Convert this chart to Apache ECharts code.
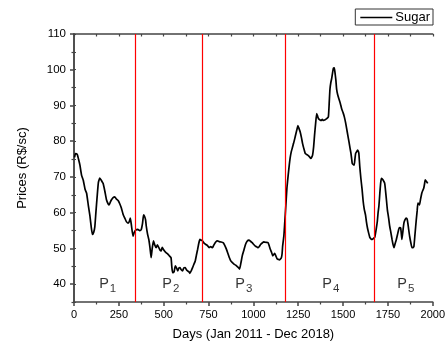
<!DOCTYPE html>
<html><head><meta charset="utf-8">
<script src="https://cdn.jsdelivr.net/npm/echarts@6/dist/echarts.min.js"></script>
<style>html,body{margin:0;padding:0;background:#fff}#c{width:448px;height:351px}</style>
</head><body><div id="c"></div>
<script>
const days = [3,8,18,25,33,42,52,62,70,80,89,96,103,110,116,122,129,136,144,153,162,172,181,190,196,203,209,218,227,237,246,255,264,274,283,292,301,308,314,320,329,336,344,356,366,375,382,388,393,399,403,410,417,424,430,436,443,450,458,465,473,480,486,492,499,506,513,522,532,541,545,550,558,565,572,578,585,591,598,605,612,620,627,633,640,646,654,661,668,676,682,689,696,702,709,716,725,735,744,753,762,772,780,790,800,809,820,831,839,846,853,860,867,874,883,892,901,910,917,923,930,938,947,956,965,975,984,993,1002,1012,1020,1027,1034,1040,1049,1058,1070,1082,1089,1095,1102,1108,1114,1119,1126,1132,1140,1145,1150,1156,1160,1163,1170,1175,1181,1187,1194,1200,1205,1211,1218,1224,1231,1237,1243,1248,1254,1261,1268,1274,1281,1289,1296,1303,1312,1320,1325,1330,1336,1341,1347,1353,1358,1363,1370,1378,1384,1390,1400,1409,1418,1423,1427,1432,1436,1441,1446,1451,1455,1460,1464,1470,1477,1485,1492,1500,1507,1514,1520,1527,1533,1539,1544,1548,1551,1556,1562,1566,1570,1575,1581,1585,1588,1593,1599,1606,1612,1618,1625,1630,1636,1643,1649,1655,1662,1670,1677,1685,1691,1695,1700,1705,1710,1714,1722,1732,1740,1747,1754,1760,1767,1773,1778,1784,1790,1797,1804,1810,1815,1821,1825,1828,1834,1839,1845,1852,1857,1861,1866,1871,1878,1884,1890,1895,1901,1908,1913,1917,1922,1926,1932,1939,1945,1950,1955,1958,1965,1972];
const prices = [75.5,76.5,76.3,75,73.3,70.5,69,66.5,65.5,62,59,56,53.9,54.5,56,60,64.5,68.5,69.7,69,68.2,66,63.6,62.5,62.2,63,63.6,64.2,64.4,63.8,63.4,62.5,61.3,59.5,58.5,57.5,57.1,57.5,58.5,56.5,53.4,54.5,55.1,55.3,55,55.3,57,59.4,59,58,56.2,54,52.5,50,47.4,50,52.1,51,50.2,51,50.2,49.5,49.3,50.3,49.7,49.2,48.8,48.5,47.9,47.4,45,43.2,43.5,45.1,44.5,43.7,44.5,44.6,44,43.7,44.5,44.6,44,43.7,43.5,43,43.8,44.6,45.5,46.5,48,49.7,51.5,52.5,52.3,52.1,51.5,51.1,50.8,50.2,50.5,50.2,51,51.8,52.1,51.9,51.8,51.6,51,50.2,49.3,48.3,47.3,46.5,46,45.6,45.3,44.9,44.6,44.2,45.8,47.9,49.5,51.1,52,52.3,52,51.6,51.1,50.6,50.4,50.2,50.6,51.1,51.5,51.8,51.7,51.6,50.6,49.7,48.8,47.9,48.3,48.6,47.8,47.1,46.9,46.8,47,47.4,48.5,50.6,53.5,57.3,62,66.9,70.5,73.3,75.3,77,78.3,79.4,80.8,82.1,83.3,84.4,83.6,82.6,81,79.4,78,76.6,76.3,76.1,75.7,75.2,75.5,76.1,78.5,81.7,85,87.7,87,86.3,86,85.8,86.1,85.8,86,86.3,86.8,91,94.6,96.5,97.4,99,100.4,100.5,99.2,97,94.6,93,91.8,90.5,89.1,88,86.8,85.2,83.5,81.5,79.8,78,76.6,75,73.8,73.5,73.3,75,76.6,77,77.5,77.2,76.6,73,69.7,66.5,63.2,61,59.4,57.5,55.7,54.2,53.1,52.7,52.5,52.8,53.2,55.5,57.6,59.9,62,65.5,68.5,69.6,69.2,68.2,64.5,60.8,58.5,56.2,54.3,52.5,51.2,50.2,51.3,52.5,54,55.3,55.8,55.7,54,52.5,55,57.1,58,58.5,58.2,57.1,55.2,53.4,51.5,50.2,50.2,50.6,54,58,60.5,62.7,62.5,62.2,63.8,65.5,66.3,66.9,68.3,69.2,68.7,68.2];
const periodBounds = [342, 716, 1175, 1673];
const periodNames = ['1','2','3','4','5'];
const periodLabelDays = [188, 540, 947, 1432, 1850];
const periodLabelPrice = 40;
const yTickValues = [40, 50, 60, 70, 80, 90, 100, 110];
const yMinorValues = [35, 45, 55, 65, 75, 85, 95, 105];
const yAllValues = [35, 40, 45, 50, 55, 60, 65, 70, 75, 80, 85, 90, 95, 100, 105, 110];

const FONT = 'Liberation Sans, Arial, sans-serif';
const AX = '#444';
const chart = echarts.init(document.getElementById('c'), null, {renderer: 'canvas'});
chart.setOption({
  animation: false,
  backgroundColor: '#fff',
  textStyle: {fontFamily: FONT},
  grid: {left: 74, right: 13, top: 34, bottom: 49},
  legend: {
    data: [{name: 'Sugar', icon: 'rect'}], right: 15, top: 9,
    borderColor: '#333', borderWidth: 1, borderRadius: 0,
    padding: [2, 3, 1, 5], itemWidth: 32, itemHeight: 1.6, itemGap: 4,
    itemStyle: {color: '#000'},
    textStyle: {fontFamily: FONT, fontSize: 13, color: '#000', padding: [0, 0, 0, -2]}
  },
  xAxis: [{
    type: 'value', min: 0, max: 2000, interval: 250, position: 'bottom',
    name: 'Days (Jan 2011 - Dec 2018)', nameLocation: 'middle', nameGap: 26,
    nameTextStyle: {fontFamily: FONT, fontSize: 13, color: '#000'},
    axisLine: {lineStyle: {color: AX, width: 1.5}},
    axisTick: {length: 4, lineStyle: {color: AX, width: 1.5}},
    minorTick: {show: true, splitNumber: 2, length: 2.5, lineStyle: {color: AX, width: 1.2}},
    splitLine: {show: false},
    axisLabel: {fontFamily: FONT, fontSize: 11, color: '#000', margin: 7, formatter: v => String(v)}
  }, {
    type: 'value', min: 0, max: 2000, interval: 250, position: 'top',
    axisLine: {lineStyle: {color: AX, width: 1.5}},
    axisTick: {inside: true, length: 2.5, lineStyle: {color: AX, width: 1.2}},
    minorTick: {show: true, splitNumber: 2, length: 2.5, lineStyle: {color: AX, width: 1.2}},
    splitLine: {show: false}, axisLabel: {show: false}
  }],
  yAxis: [{
    type: 'value', min: 35, max: 110, position: 'left',
    name: 'Prices (R$/sc)', nameLocation: 'middle', nameGap: 45,
    nameTextStyle: {fontFamily: FONT, fontSize: 13, color: '#000'},
    axisLine: {show: true, lineStyle: {color: AX, width: 1.5}},
    axisTick: {show: true, customValues: yTickValues, length: 4, lineStyle: {color: AX, width: 1.5}},
    axisLabel: {customValues: yTickValues, fontFamily: FONT, fontSize: 11.5, color: '#000', margin: 8},
    splitLine: {show: false}
  }, {
    type: 'value', min: 35, max: 110, position: 'right',
    axisLine: {show: true, lineStyle: {color: AX, width: 1.5}},
    axisTick: {show: true, customValues: yAllValues, length: 2, lineStyle: {color: AX, width: 1.2}},
    axisLabel: {show: false}, splitLine: {show: false}
  }, {
    type: 'value', min: 35, max: 110, position: 'left',
    axisLine: {show: false},
    axisTick: {show: true, customValues: yMinorValues, length: 2.5, lineStyle: {color: AX, width: 1.2}},
    axisLabel: {show: false}, splitLine: {show: false}
  }],
  series: [{
    name: 'Sugar', type: 'line', xAxisIndex: 0, yAxisIndex: 0,
    data: days.map((d, i) => [d, prices[i]]),
    symbol: 'none', smooth: 0.15,
    lineStyle: {color: '#000', width: 1.7}, itemStyle: {color: '#000'},
    markLine: {
      silent: true, symbol: 'none', label: {show: false},
      lineStyle: {color: '#ff0000', width: 1.2, type: 'solid'},
      data: periodBounds.map(x => ({xAxis: x}))
    }
  }, {
    name: 'periods', type: 'scatter', xAxisIndex: 0, yAxisIndex: 0, silent: true,
    symbolSize: 1, itemStyle: {color: 'rgba(0,0,0,0)'},
    data: periodLabelDays.map((d, i) => [d, periodLabelPrice, periodNames[i]]),
    label: {
      show: true, position: 'inside',
      formatter: p => '{p|P}{s|' + p.data[2] + '}',
      rich: {
        p: {fontFamily: FONT, fontSize: 14.5, color: '#000', lineHeight: 18},
        s: {fontFamily: FONT, fontSize: 11.5, color: '#000', padding: [9, 0, 0, 1], lineHeight: 18}
      }
    }
  }]
});
</script></body></html>
